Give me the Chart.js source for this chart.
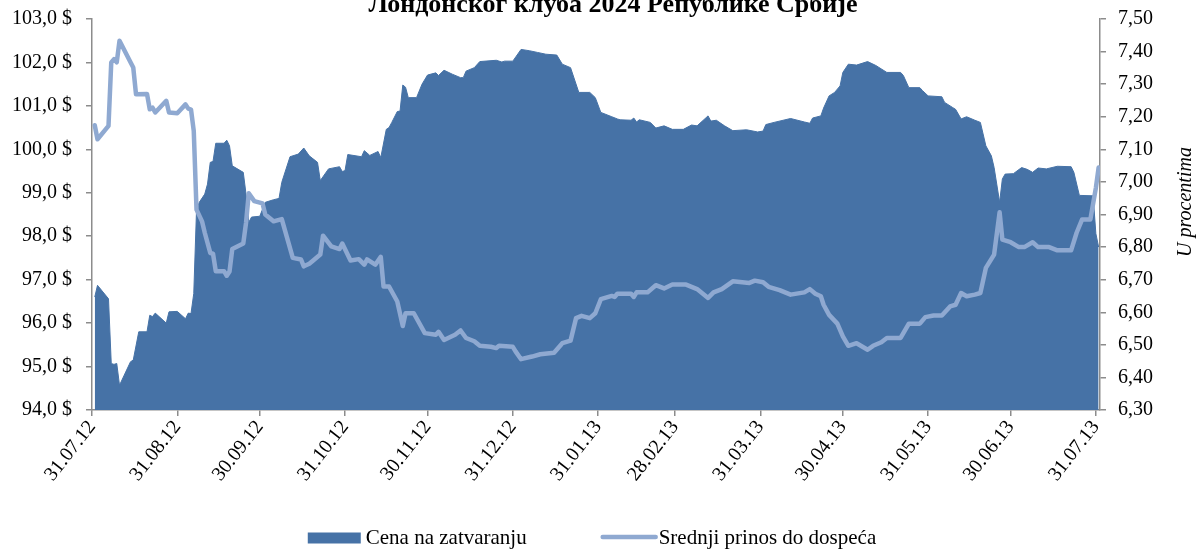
<!DOCTYPE html>
<html>
<head>
<meta charset="utf-8">
<script src="https://cdn.jsdelivr.net/npm/chart.js@4.4.1/dist/chart.umd.min.js"></script>
<style>
    html, body { margin: 0; padding: 0; background: #fff; }
    #wrap { width: 1200px; height: 550px; }
</style>
</head>
<body>
<div id="wrap"><canvas id="bondChart"></canvas></div>
<script>
// x-axis: month-end dates, data are days counted from 31.07.12
const xTickLabels = ['31.07.12', '31.08.12', '30.09.12', '31.10.12', '30.11.12', '31.12.12',
    '31.01.13', '28.02.13', '31.03.13', '30.04.13', '31.05.13', '30.06.13', '31.07.13'];

// Cena na zatvaranju (USD)
const priceDays = [1, 2, 6, 7, 8, 9, 10, 14, 15, 17, 20, 21, 22, 23, 27, 28, 31, 34, 35, 36, 37, 38, 39, 41, 42,
    43, 44, 45, 48, 49, 50, 51, 55, 56, 57, 58, 61, 63, 66, 68, 69, 72, 75, 77, 79, 82, 83, 86, 90, 91, 92, 93,
    98, 99, 101, 104, 105, 107, 108, 109, 111, 112, 113, 114, 115, 118, 120, 122, 125, 126, 128, 131, 134, 135,
    136, 139, 141, 147, 149, 150, 153, 156, 159, 162, 165, 169, 171, 174, 177, 181, 183, 185, 189, 191, 192, 196,
    197, 198, 199, 203, 205, 208, 211, 215, 218, 220, 224, 225, 227, 230, 233, 238, 242, 244, 245, 248, 254, 259,
    261, 262, 265, 266, 268, 270, 272, 273, 275, 278, 282, 285, 289, 294, 295, 297, 301, 302, 304, 309, 310, 313,
    314, 316, 318, 321, 323, 325, 327, 328, 330, 331, 332, 335, 338, 340, 342, 344, 347, 351, 356, 357, 359, 364,
    365, 366];
const priceValues = [96.60, 96.87, 96.56, 95.07, 95.05, 95.07, 94.57, 95.11, 95.15, 95.80, 95.80, 96.18, 96.15,
    96.23, 96.00, 96.26, 96.27, 96.10, 96.23, 96.22, 96.68, 98.59, 98.78, 98.97, 99.20, 99.70, 99.72, 100.14,
    100.14, 100.21, 100.08, 99.62, 99.47, 98.97, 98.32, 98.44, 98.46, 98.78, 98.84, 98.87, 99.24, 99.83, 99.89,
    100.03, 99.85, 99.70, 99.28, 99.55, 99.60, 99.49, 99.51, 99.88, 99.83, 99.97, 99.86, 99.95, 99.81, 100.46,
    100.50, 100.62, 100.87, 100.88, 101.48, 101.43, 101.19, 101.19, 101.50, 101.71, 101.76, 101.70, 101.82,
    101.73, 101.65, 101.65, 101.80, 101.88, 102.02, 102.05, 102.01, 102.03, 102.03, 102.30, 102.27, 102.23,
    102.19, 102.17, 101.96, 101.88, 101.31, 101.31, 101.19, 100.85, 100.75, 100.70, 100.68, 100.67, 100.72,
    100.63, 100.68, 100.62, 100.49, 100.54, 100.46, 100.46, 100.56, 100.54, 100.77, 100.65, 100.67, 100.54,
    100.43, 100.45, 100.40, 100.42, 100.57, 100.62, 100.71, 100.63, 100.60, 100.72, 100.77, 100.95, 101.23,
    101.31, 101.46, 101.77, 101.96, 101.94, 102.02, 101.93, 101.77, 101.77, 101.70, 101.42, 101.42, 101.35,
    101.23, 101.21, 101.08, 100.96, 100.92, 100.70, 100.75, 100.67, 100.62, 100.08, 99.85, 99.58, 98.78, 99.32,
    99.43, 99.44, 99.58, 99.54, 99.47, 99.57, 99.55, 99.61, 99.60, 99.47, 98.94, 98.93, 98.06, 97.75];

// Srednji prinos do dospeća (%)
const yieldDays = [1, 2, 6, 7, 8, 9, 10, 14, 15, 16, 20, 21, 22, 23, 27, 28, 31, 34, 35, 36, 37, 38, 40, 41, 43,
    44, 45, 48, 49, 50, 51, 55, 56, 57, 59, 62, 63, 66, 69, 73, 76, 77, 79, 80, 83, 84, 87, 90, 91, 94, 97, 99,
    100, 103, 105, 106, 108, 111, 113, 114, 117, 121, 125, 126, 128, 132, 134, 136, 139, 141, 145, 147, 148, 153,
    154, 156, 160, 163, 168, 171, 174, 176, 178, 181, 183, 185, 189, 190, 191, 196, 197, 198, 202, 205, 208, 211,
    216, 220, 224, 226, 229, 233, 239, 241, 244, 246, 250, 254, 259, 261, 263, 265, 266, 268, 271, 273, 275, 278,
    282, 284, 287, 289, 294, 297, 301, 303, 306, 309, 312, 314, 316, 318, 321, 323, 325, 328, 330, 331, 334, 337,
    339, 342, 344, 348, 351, 356, 358, 360, 363, 365, 366];
const yieldValues = [7.174, 7.131, 7.172, 7.367, 7.377, 7.367, 7.433, 7.367, 7.351, 7.269, 7.270, 7.223, 7.228,
    7.213, 7.249, 7.213, 7.211, 7.238, 7.225, 7.222, 7.156, 6.915, 6.879, 6.844, 6.782, 6.780, 6.726, 6.726,
    6.712, 6.725, 6.794, 6.811, 6.874, 6.965, 6.941, 6.934, 6.900, 6.879, 6.886, 6.767, 6.762, 6.741, 6.749,
    6.756, 6.777, 6.835, 6.802, 6.794, 6.811, 6.759, 6.763, 6.746, 6.762, 6.746, 6.770, 6.679, 6.679, 6.633,
    6.558, 6.597, 6.597, 6.536, 6.531, 6.540, 6.515, 6.531, 6.544, 6.521, 6.511, 6.497, 6.494, 6.490, 6.497,
    6.494, 6.480, 6.456, 6.464, 6.471, 6.476, 6.505, 6.513, 6.582, 6.589, 6.582, 6.597, 6.640, 6.650, 6.647,
    6.657, 6.657, 6.647, 6.661, 6.661, 6.683, 6.673, 6.685, 6.685, 6.671, 6.644, 6.661, 6.671, 6.695, 6.690,
    6.697, 6.692, 6.678, 6.668, 6.654, 6.661, 6.671, 6.657, 6.649, 6.623, 6.592, 6.565, 6.526, 6.497, 6.505,
    6.485, 6.497, 6.508, 6.521, 6.521, 6.565, 6.565, 6.585, 6.590, 6.590, 6.618, 6.623, 6.659, 6.649, 6.654,
    6.659, 6.736, 6.777, 6.907, 6.823, 6.815, 6.800, 6.800, 6.815, 6.800, 6.800, 6.790, 6.790, 6.844, 6.885,
    6.885, 6.982, 7.044];

const titleText = 'Лондонског клуба 2024 Републике Србије';
const rightAxisTitle = 'U procentima';
const priceLabel = 'Cena na zatvaranju';
const yieldLabel = 'Srednji prinos do dospeća';

const priceColor = '#4672a6';
const yieldColor = '#8fa9d1';
const axisColor = '#8c8c8c';
const serif = "'Liberation Serif', 'Times New Roman', serif";

// days since 31.07.12 for a dd.mm.yy label
function dayOffset(lbl) {
    const [d, m, y] = lbl.split('.').map(Number);
    return Math.round((Date.UTC(2000 + y, m - 1, d) - Date.UTC(2012, 6, 31)) / 86400000);
}
const xTickDays = xTickLabels.map(dayOffset);

Chart.defaults.font.family = serif;
Chart.defaults.font.size = 20;
Chart.defaults.color = '#000';

// title (cut by the top edge), rotated right axis title and the legend row
const extrasPlugin = {
    id: 'extras',
    afterDraw(chart) {
        const ctx = chart.ctx;
        ctx.save();
        ctx.fillStyle = '#000';

        ctx.font = 'bold 26px ' + serif;
        ctx.textAlign = 'center';
        ctx.textBaseline = 'alphabetic';
        ctx.fillText(titleText, 613, 12);

        ctx.save();
        ctx.translate(1186, 202);
        ctx.rotate(-Math.PI / 2);
        ctx.font = 'italic 20px ' + serif;
        ctx.textBaseline = 'middle';
        ctx.fillText(rightAxisTitle, 0, 0);
        ctx.restore();

        // legend
        ctx.font = '21px ' + serif;
        ctx.textAlign = 'left';
        ctx.textBaseline = 'middle';
        const w1 = 53 + 5 + ctx.measureText(priceLabel).width;
        const w2 = 55 + 3 + ctx.measureText(yieldLabel).width;
        const gap = 74;
        let x = 592 - (w1 + gap + w2) / 2;
        const y = 538;
        ctx.fillStyle = priceColor;
        ctx.fillRect(x, y - 5.5, 53, 11);
        ctx.fillStyle = '#000';
        ctx.fillText(priceLabel, x + 58, y);
        x += w1 + gap;
        ctx.strokeStyle = yieldColor;
        ctx.lineWidth = 4.5;
        ctx.lineCap = 'round';
        ctx.beginPath();
        ctx.moveTo(x + 2, y - 1);
        ctx.lineTo(x + 55, y - 1);
        ctx.stroke();
        ctx.fillText(yieldLabel, x + 58, y);
        ctx.restore();
    }
};

// fixed axis widths, no extra label padding above/below the plot
function fitVertical(width) {
    return (scale) => {
        scale.width = width;
        scale.paddingTop = 0;
        scale.paddingBottom = 0;
    };
}

new Chart(document.getElementById('bondChart'), {
    type: 'line',
    data: {
        datasets: [{
            label: yieldLabel,
            data: yieldDays.map((d, i) => ({ x: d, y: yieldValues[i] })),
            yAxisID: 'y1',
            borderColor: yieldColor,
            borderWidth: 4.5,
            borderCapStyle: 'round',
            borderJoinStyle: 'round',
            pointRadius: 0,
            tension: 0,
            fill: false
        }, {
            label: priceLabel,
            data: priceDays.map((d, i) => ({ x: d, y: priceValues[i] })),
            yAxisID: 'y',
            borderColor: priceColor,
            backgroundColor: priceColor,
            borderWidth: 1,
            pointRadius: 0,
            tension: 0,
            fill: 'start'
        }]
    },
    options: {
        responsive: true,
        maintainAspectRatio: false,
        animation: false,
        layout: {
            padding: { top: 19, left: 0, right: 0, bottom: 30 }
        },
        plugins: {
            legend: { display: false },
            tooltip: { enabled: false }
        },
        scales: {
            x: {
                type: 'linear',
                min: 0,
                max: 366.5,
                afterBuildTicks: (scale) => {
                    scale.ticks = xTickDays.map(v => ({ value: v }));
                },
                afterFit: (scale) => {
                    scale.height = 110;
                },
                grid: {
                    drawOnChartArea: false,
                    drawTicks: true,
                    tickLength: 6,
                    color: axisColor,
                    lineWidth: 1.5
                },
                border: { display: true, color: axisColor, width: 1.5 },
                ticks: {
                    autoSkip: false,
                    maxRotation: 52,
                    minRotation: 52,
                    padding: 0,
                    callback: (value, index) => xTickLabels[index]
                }
            },
            y: {
                position: 'left',
                min: 94,
                max: 103,
                afterFit: fitVertical(92),
                grid: {
                    drawOnChartArea: false,
                    drawTicks: true,
                    tickLength: 6,
                    color: axisColor,
                    lineWidth: 1.5
                },
                border: { display: true, color: axisColor, width: 1.5 },
                ticks: {
                    stepSize: 1,
                    padding: 14,
                    callback: (v) => v.toFixed(1).replace('.', ',') + ' $'
                }
            },
            y1: {
                position: 'right',
                min: 6.3,
                max: 7.5,
                afterFit: fitVertical(100),
                grid: {
                    drawOnChartArea: false,
                    drawTicks: true,
                    tickLength: 6,
                    color: axisColor,
                    lineWidth: 1.5
                },
                border: { display: true, color: axisColor, width: 1.5 },
                ticks: {
                    stepSize: 0.1,
                    padding: 12,
                    callback: (v) => v.toFixed(2).replace('.', ',')
                }
            }
        }
    },
    plugins: [extrasPlugin]
});
</script>
</body>
</html>
